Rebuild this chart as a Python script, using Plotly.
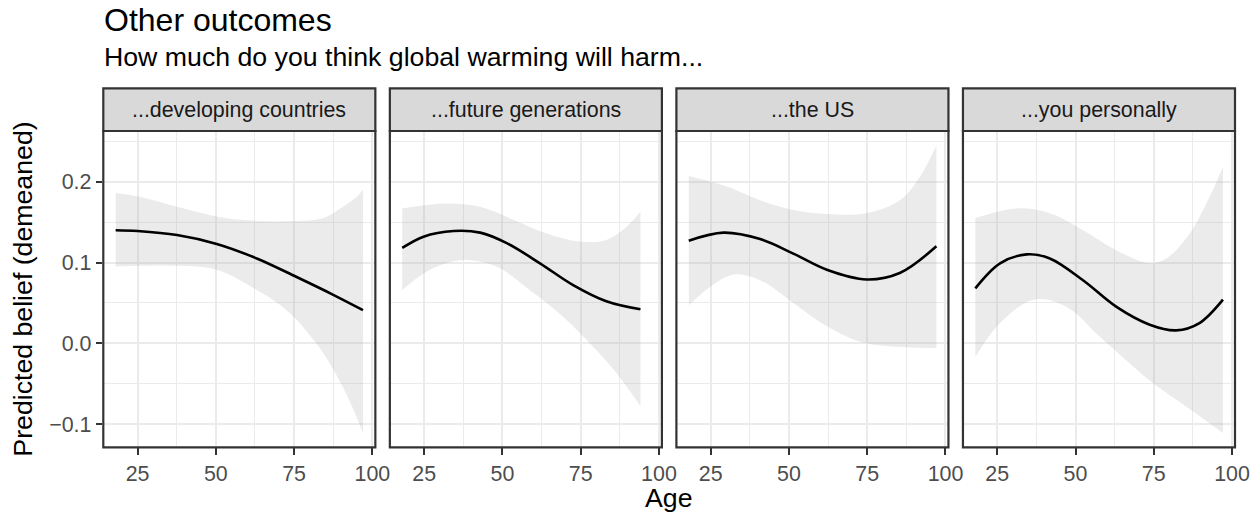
import plotly.graph_objects as go

# ---- data: smoothed predicted belief by age, one panel per outcome ----
facets = ["...developing countries", "...future generations", "...the US", "...you personally"]

dev_fit_age = [18, 25, 37.6, 50.3, 63.1, 75.8, 87.5, 97]
dev_fit = [0.140, 0.139, 0.134, 0.123, 0.105, 0.082, 0.060, 0.041]
dev_hi_age = [18, 25.9, 37.6, 50.3, 57.7, 73.6, 84.3, 90.6, 94.9, 97]
dev_hi = [0.186, 0.181, 0.169, 0.157, 0.153, 0.151, 0.155, 0.169, 0.181, 0.190]
dev_lo_age = [18, 37.6, 50.3, 63.1, 70, 75.8, 80, 84.3, 88.6, 92.8, 97]
dev_lo = [0.095, 0.096, 0.091, 0.066, 0.049, 0.029, 0.010, -0.012, -0.040, -0.072, -0.111]

fut_fit_age = [18, 24.8, 34.4, 42.9, 51.4, 62.0, 72.6, 83.2, 94.1]
fut_fit = [0.118, 0.132, 0.139, 0.137, 0.124, 0.099, 0.072, 0.052, 0.042]
fut_hi_age = [18, 32.3, 42.9, 53.5, 64.1, 74.7, 83.2, 89.6, 94.1]
fut_hi = [0.167, 0.173, 0.169, 0.153, 0.136, 0.126, 0.128, 0.144, 0.163]
fut_lo_age = [18, 26.9, 37.5, 48.1, 58.7, 69.3, 79.9, 87.3, 94.1]
fut_lo = [0.066, 0.091, 0.103, 0.095, 0.066, 0.033, -0.008, -0.041, -0.078]

us_fit_age = [18, 29.1, 40.8, 51.4, 62.1, 74.8, 85.4, 97.1]
us_fit = [0.127, 0.137, 0.129, 0.111, 0.091, 0.079, 0.087, 0.120]
us_hi_age = [18, 30.2, 40.8, 51.4, 62.1, 74.8, 85.4, 91.8, 97.1]
us_hi = [0.207, 0.194, 0.177, 0.165, 0.160, 0.161, 0.177, 0.206, 0.245]
us_lo_age = [18, 24.9, 32.4, 40.8, 51.4, 62.1, 72.7, 83.3, 97.1]
us_lo = [0.047, 0.070, 0.085, 0.078, 0.050, 0.021, 0.002, -0.004, -0.006]

you_fit_age = [18, 25.9, 34.4, 41.8, 52.4, 63.1, 73.7, 82.2, 89.6, 97.1]
you_fit = [0.068, 0.099, 0.110, 0.105, 0.078, 0.045, 0.023, 0.016, 0.025, 0.054]
you_hi_age = [18, 31.2, 41.8, 52.4, 63.1, 73.7, 79.0, 86.5, 92.8, 97.1]
you_hi = [0.155, 0.167, 0.161, 0.140, 0.115, 0.099, 0.105, 0.136, 0.181, 0.219]
you_lo_age = [18, 25.9, 36.6, 47.2, 57.8, 68.5, 75, 86, 97.1]
you_lo = [-0.017, 0.025, 0.054, 0.045, 0.008, -0.029, -0.050, -0.080, -0.111]

x_ticks = [25, 50, 75, 100]
y_ticks = [-0.1, 0.0, 0.1, 0.2]

panels = [
    (dev_fit_age, dev_fit, dev_hi_age, dev_hi, dev_lo_age, dev_lo),
    (fut_fit_age, fut_fit, fut_hi_age, fut_hi, fut_lo_age, fut_lo),
    (us_fit_age, us_fit, us_hi_age, us_hi, us_lo_age, us_lo),
    (you_fit_age, you_fit, you_hi_age, you_hi, you_lo_age, you_lo),
]

# ---- geometry (pixels) ----
W, H = 1260, 514
P_LEFT, P_W, P_GAP = 103.3, 272.05, 14.5
P_TOP, P_BOT = 131.0, 447.3
STRIP_TOP = 88.3
X_RANGE = [14.05, 100.95]
Y_RANGE = [-0.1288, 0.2628]

FONT = "Liberation Sans, Arial, Helvetica, sans-serif"
GRID = "#EBEBEB"
DARK = "#333333"
TICK_SIZE = 21.4
TITLE_SIZE = 26.7


def px_x(v):
    return v / W


def px_y(v):
    return 1 - v / H


fig = go.Figure()
layout = dict(
    width=W, height=H,
    margin=dict(l=0, r=0, t=0, b=0, autoexpand=False),
    paper_bgcolor="white", plot_bgcolor="white",
    showlegend=False,
    font=dict(family=FONT),
)
shapes = []
annotations = []

for i, (fa, fv, ha, hv, la, lv) in enumerate(panels):
    n = i + 1
    xa = "x" if n == 1 else f"x{n}"
    ya = "y" if n == 1 else f"y{n}"
    left = P_LEFT + i * (P_W + P_GAP)
    right = left + P_W

    # confidence band: lower edge, then upper filled down to it
    fig.add_trace(go.Scatter(
        x=la, y=lv, xaxis=xa, yaxis=ya, mode="lines",
        line=dict(width=0, shape="spline"), hoverinfo="skip",
    ))
    fig.add_trace(go.Scatter(
        x=ha, y=hv, xaxis=xa, yaxis=ya, mode="lines",
        line=dict(width=0, shape="spline"), fill="tonexty",
        fillcolor="rgba(153,153,153,0.2)", hoverinfo="skip",
    ))
    # fitted curve
    fig.add_trace(go.Scatter(
        x=fa, y=fv, xaxis=xa, yaxis=ya, mode="lines",
        line=dict(color="black", width=2.6, shape="spline"),
    ))

    layout[f"xaxis{'' if n == 1 else n}"] = dict(
        domain=[px_x(left), px_x(right)], range=X_RANGE, anchor=ya,
        automargin=False,
        tickmode="array", tickvals=x_ticks,
        showgrid=True, gridcolor=GRID, gridwidth=2.3,
        minor=dict(tickmode="linear", tick0=0, dtick=12.5, showgrid=True,
                   gridcolor=GRID, gridwidth=1.2, ticks=""),
        ticks="outside", ticklen=6.6, tickwidth=2.2, tickcolor=DARK,
        tickfont=dict(size=TICK_SIZE, color="#4D4D4D", family=FONT),
        showline=False, zeroline=False, fixedrange=True,
    )
    layout[f"yaxis{'' if n == 1 else n}"] = dict(
        domain=[px_y(P_BOT), px_y(P_TOP)], range=Y_RANGE, anchor=xa,
        automargin=False,
        tickmode="array", tickvals=y_ticks, tickformat=".1f",
        showgrid=True, gridcolor=GRID, gridwidth=2.3,
        minor=dict(tickmode="linear", tick0=0, dtick=0.05, showgrid=True,
                   gridcolor=GRID, gridwidth=1.2, ticks=""),
        ticks="outside" if n == 1 else "", ticklen=6.6, tickwidth=2.2, tickcolor=DARK,
        showticklabels=(n == 1),
        tickfont=dict(size=TICK_SIZE, color="#4D4D4D", family=FONT),
        showline=False, zeroline=False, fixedrange=True,
    )

    # panel border
    shapes.append(dict(
        type="rect", xref="paper", yref="paper",
        x0=px_x(left), x1=px_x(right), y0=px_y(P_BOT), y1=px_y(P_TOP),
        line=dict(color=DARK, width=2.2), fillcolor="rgba(0,0,0,0)", layer="above",
    ))
    # strip
    shapes.append(dict(
        type="rect", xref="paper", yref="paper",
        x0=px_x(left), x1=px_x(right), y0=px_y(P_TOP), y1=px_y(STRIP_TOP),
        line=dict(color=DARK, width=2.2), fillcolor="#D9D9D9", layer="above",
    ))
    annotations.append(dict(
        text=facets[i], xref="paper", yref="paper",
        x=px_x((left + right) / 2), y=px_y((P_TOP + STRIP_TOP) / 2),
        xanchor="center", yanchor="middle", showarrow=False,
        font=dict(size=TICK_SIZE, color="#1A1A1A", family=FONT),
    ))

last_right = P_LEFT + 4 * P_W + 3 * P_GAP

annotations += [
    dict(text="Other outcomes", xref="paper", yref="paper",
         x=px_x(P_LEFT - 1.5), y=px_y(20), xanchor="left", yanchor="middle",
         showarrow=False, font=dict(size=32, color="black", family=FONT)),
    dict(text="How much do you think global warming will harm...", xref="paper", yref="paper",
         x=px_x(P_LEFT - 1), y=px_y(57), xanchor="left", yanchor="middle",
         showarrow=False, font=dict(size=TITLE_SIZE, color="black", family=FONT)),
    dict(text="Age", xref="paper", yref="paper",
         x=px_x((P_LEFT + last_right) / 2), y=px_y(498), xanchor="center", yanchor="middle",
         showarrow=False, font=dict(size=TITLE_SIZE, color="black", family=FONT)),
    dict(text="Predicted belief (demeaned)", xref="paper", yref="paper",
         x=px_x(23.5), y=px_y((P_TOP + P_BOT) / 2), xanchor="center", yanchor="middle",
         textangle=-90, showarrow=False, font=dict(size=TITLE_SIZE, color="black", family=FONT)),
]

layout["shapes"] = shapes
layout["annotations"] = annotations
fig.update_layout(**layout)

fig.write_html("out.html")
